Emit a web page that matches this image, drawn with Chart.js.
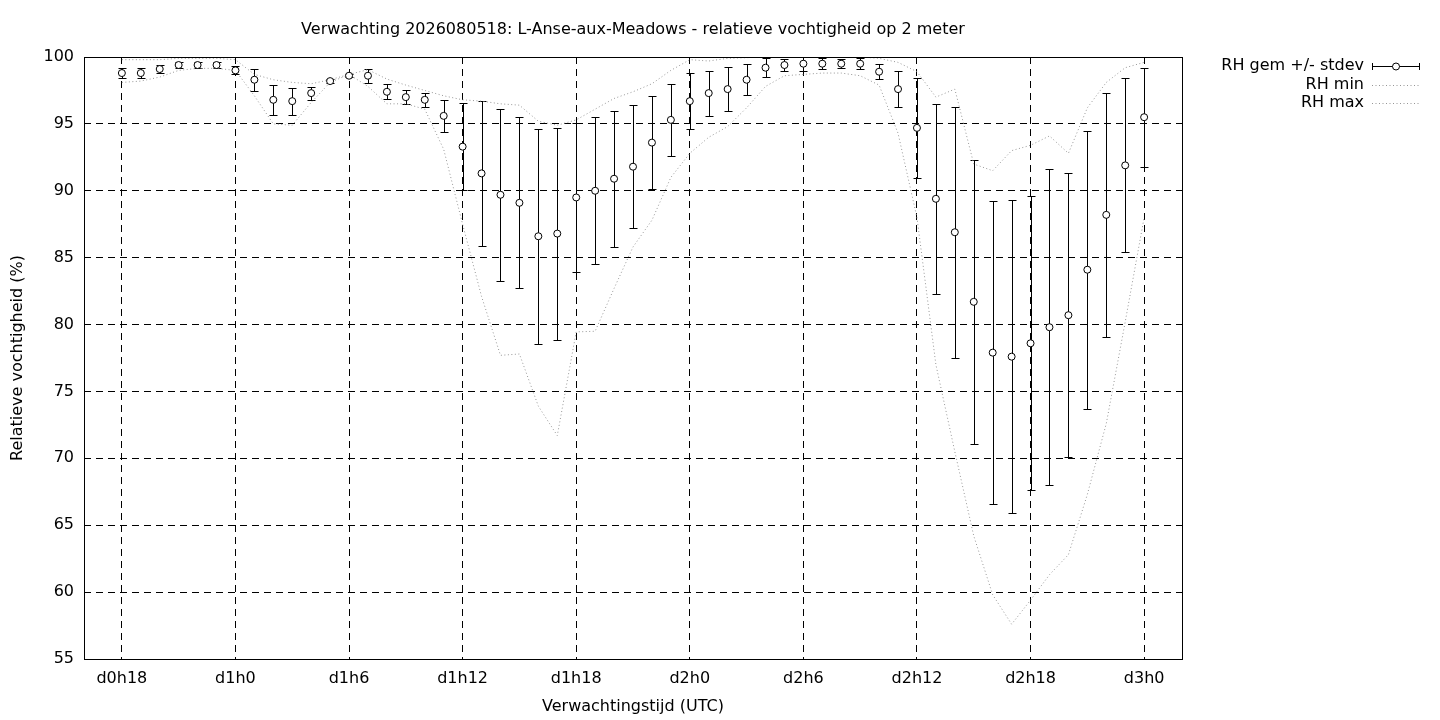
<!DOCTYPE html>
<html>
<head>
<meta charset="utf-8">
<script src="https://cdn.jsdelivr.net/npm/chart.js@4.4.1/dist/chart.umd.min.js"></script>
<style>
html,body{margin:0;padding:0;background:#fff;}
canvas{display:block;}
</style>
</head>
<body>
<canvas id="c" width="1440" height="720"></canvas>
<script>
// ---- data ----
const chartTitle = 'Verwachting 2026080518: L-Anse-aux-Meadows - relatieve vochtigheid op 2 meter';
const xTitle = 'Verwachtingstijd (UTC)';
const yTitle = 'Relatieve vochtigheid (%)';
const seriesLabels = ['RH gem +/- stdev', 'RH min', 'RH max'];

// lead time in hours (d0h18 = 18 ... d3h0 = 72)
const leadHours = [18,19,20,21,22,23,24,25,26,27,28,29,30,31,32,33,34,35,36,37,38,39,40,41,42,43,44,45,
  46,47,48,49,50,51,52,53,54,55,56,57,58,59,60,61,62,63,64,65,66,67,68,69,70,71,72];
const tickHours = [18,24,30,36,42,48,54,60,66,72];
const tickLabels = ['d0h18','d1h0','d1h6','d1h12','d1h18','d2h0','d2h6','d2h12','d2h18','d3h0'];

const rhMean = [98.8,98.8,99.1,99.4,99.4,99.4,99.0,98.3,96.8,96.7,97.3,98.2,98.6,98.6,97.4,97.0,96.8,95.6,
  93.3,91.3,89.7,89.1,86.6,86.8,89.5,90.0,90.9,91.8,93.6,95.3,96.7,97.3,97.6,98.3,99.2,99.4,99.5,99.5,
  99.5,99.5,98.9,97.6,94.7,89.4,86.9,81.7,77.9,77.6,78.6,79.8,80.7,84.1,88.2,91.9,95.5];
const rhStdev = [0.35,0.35,0.3,0.25,0.25,0.25,0.3,0.81,1.12,1.0,0.48,0.15,0.12,0.52,0.56,0.53,0.53,1.18,
  3.24,5.41,6.43,6.38,8.02,7.92,5.6,5.48,5.07,4.6,3.5,2.67,2.11,1.68,1.65,1.16,0.7,0.47,0.52,0.4,
  0.35,0.4,0.57,1.37,3.73,7.09,9.39,10.6,11.3,11.7,11.0,11.8,10.6,10.4,9.1,6.5,3.7];
const rhMin = [98.1,98.2,98.5,99.0,99.15,99.15,99.0,97.1,95.0,94.9,96.6,98.1,98.7,97.8,96.5,96.5,96.1,93.1,
  87.5,82.1,77.7,77.8,73.9,71.7,79.45,79.5,82.7,85.8,87.8,91.0,92.8,94.0,94.8,96.2,97.8,98.6,98.7,98.8,
  98.8,98.6,97.9,94.3,88.0,77.0,70.5,64.2,59.8,57.6,59.4,61.3,62.8,67.3,72.6,80.2,88.0];
const rhMax = [99.8,99.8,99.8,99.9,99.9,99.9,99.8,98.7,98.3,98.1,98.0,98.3,98.7,99.05,98.35,97.9,97.5,97.1,
  96.8,96.7,96.5,96.4,95.2,94.9,95.3,96.1,96.9,97.4,98.0,99.0,99.8,99.7,99.9,99.95,100,100,100,100,
  100,100,99.9,99.6,98.9,97.0,97.6,92.0,91.5,93.0,93.4,94.1,92.8,96.2,98.1,99.2,99.6];

// ---- styling ----
const FONT = 'DejaVu Sans';
const DOT_COLOR = 'rgb(150,150,150)';
const DOT_DASH = [1, 2.5];

const errorBars = {
  id: 'errorBars',
  beforeDatasetsDraw(chart) {
    const {ctx, scales: {x, y}} = chart;
    ctx.save();
    ctx.strokeStyle = '#000';
    ctx.lineWidth = 1;
    leadHours.forEach((h, i) => {
      const px = Math.round(x.getPixelForValue(h)) + 0.5;
      const top = Math.round(y.getPixelForValue(rhMean[i] + rhStdev[i])) + 0.5;
      const bot = Math.round(y.getPixelForValue(rhMean[i] - rhStdev[i])) + 0.5;
      ctx.beginPath();
      ctx.moveTo(px, top); ctx.lineTo(px, bot);
      ctx.moveTo(px - 4, top); ctx.lineTo(px + 4, top);
      ctx.moveTo(px - 4, bot); ctx.lineTo(px + 4, bot);
      ctx.stroke();
    });
    ctx.restore();
  }
};

const frameAndLegend = {
  id: 'frameAndLegend',
  afterDraw(chart) {
    const {ctx, chartArea: a} = chart;
    ctx.save();
    ctx.strokeStyle = '#000';
    ctx.lineWidth = 1;
    ctx.setLineDash([]);
    ctx.strokeRect(Math.round(a.left) + 0.5, Math.round(a.top) + 0.5,
      Math.round(a.right - a.left), Math.round(a.bottom - a.top));

    // legend
    const rows = [65.8, 84.5, 103.2];
    const textX = 1364, s0 = 1372, s1 = 1420;
    ctx.font = '16px "' + FONT + '"';
    ctx.textAlign = 'right';
    ctx.textBaseline = 'middle';
    ctx.fillStyle = '#000';
    chart.data.datasets.forEach((d, k) => {
      const ry = rows[k];
      ctx.fillText(d.label, textX, ry);
      const ly = Math.round(ry) + 0.5;
      if (k === 0) {
        ctx.strokeStyle = '#000';
        ctx.setLineDash([]);
        ctx.beginPath();
        ctx.moveTo(s0, ly); ctx.lineTo(s1, ly);
        ctx.moveTo(s0 + 0.5, ly - 3.5); ctx.lineTo(s0 + 0.5, ly + 3.5);
        ctx.moveTo(s1 - 0.5, ly - 3.5); ctx.lineTo(s1 - 0.5, ly + 3.5);
        ctx.stroke();
        ctx.beginPath();
        ctx.arc((s0 + s1) / 2, ly, 3.5, 0, Math.PI * 2);
        ctx.fillStyle = '#fff';
        ctx.fill();
        ctx.stroke();
        ctx.fillStyle = '#000';
      } else {
        ctx.strokeStyle = d.borderColor;
        ctx.setLineDash(d.borderDash);
        ctx.beginPath();
        ctx.moveTo(s0, ly); ctx.lineTo(s1, ly);
        ctx.stroke();
      }
    });
    ctx.restore();
  }
};

const toPoints = arr => leadHours.map((h, i) => ({x: h, y: arr[i]}));

new Chart(document.getElementById('c'), {
  type: 'line',
  data: {
    datasets: [
      {
        label: seriesLabels[0],
        data: toPoints(rhMean),
        showLine: false,
        pointRadius: 3.5,
        pointHoverRadius: 3.5,
        pointBorderWidth: 1,
        pointBorderColor: '#000',
        pointBackgroundColor: '#fff'
      },
      {
        label: seriesLabels[1],
        data: toPoints(rhMin),
        borderColor: DOT_COLOR,
        borderDash: DOT_DASH,
        borderWidth: 1,
        pointRadius: 0,
        tension: 0,
        fill: false
      },
      {
        label: seriesLabels[2],
        data: toPoints(rhMax),
        borderColor: DOT_COLOR,
        borderDash: DOT_DASH,
        borderWidth: 1,
        pointRadius: 0,
        tension: 0,
        fill: false
      }
    ]
  },
  options: {
    responsive: false,
    devicePixelRatio: 1,
    animation: false,
    events: [],
    layout: {padding: {left: 0, right: 258, top: 0, bottom: 0}},
    plugins: {
      legend: {display: false},
      tooltip: {enabled: false},
      title: {
        display: true,
        text: chartTitle,
        fullSize: false,
        color: '#000',
        font: {family: FONT, size: 16, weight: 'normal'},
        padding: {top: 20.4, bottom: 17.4}
      }
    },
    scales: {
      x: {
        type: 'linear',
        min: 16,
        max: 74,
        afterBuildTicks: s => { s.ticks = tickHours.map(v => ({value: v})); },
        afterFit: s => { s.height = 61; },
        grid: {color: '#000', lineWidth: 1, drawTicks: false},
        border: {display: false, color: '#000', width: 1, dash: [7, 5]},
        ticks: {
          color: '#000',
          font: {family: FONT, size: 16},
          padding: 10.4,
          maxRotation: 0,
          autoSkip: false,
          callback: v => tickLabels[tickHours.indexOf(v)]
        },
        title: {
          display: true,
          text: xTitle,
          color: '#000',
          font: {family: FONT, size: 16},
          padding: {top: 0, bottom: 3.4}
        }
      },
      y: {
        min: 55,
        max: 100,
        afterFit: s => { s.width = 84; },
        grid: {color: '#000', lineWidth: 1, drawTicks: false},
        border: {display: false, color: '#000', width: 1, dash: [7, 5]},
        ticks: {
          stepSize: 5,
          color: '#000',
          font: {family: FONT, size: 16},
          padding: 10
        },
        title: {
          display: true,
          text: yTitle,
          color: '#000',
          font: {family: FONT, size: 16},
          padding: {top: 8.4, bottom: 0}
        }
      }
    }
  },
  plugins: [errorBars, frameAndLegend]
});
</script>
</body>
</html>
